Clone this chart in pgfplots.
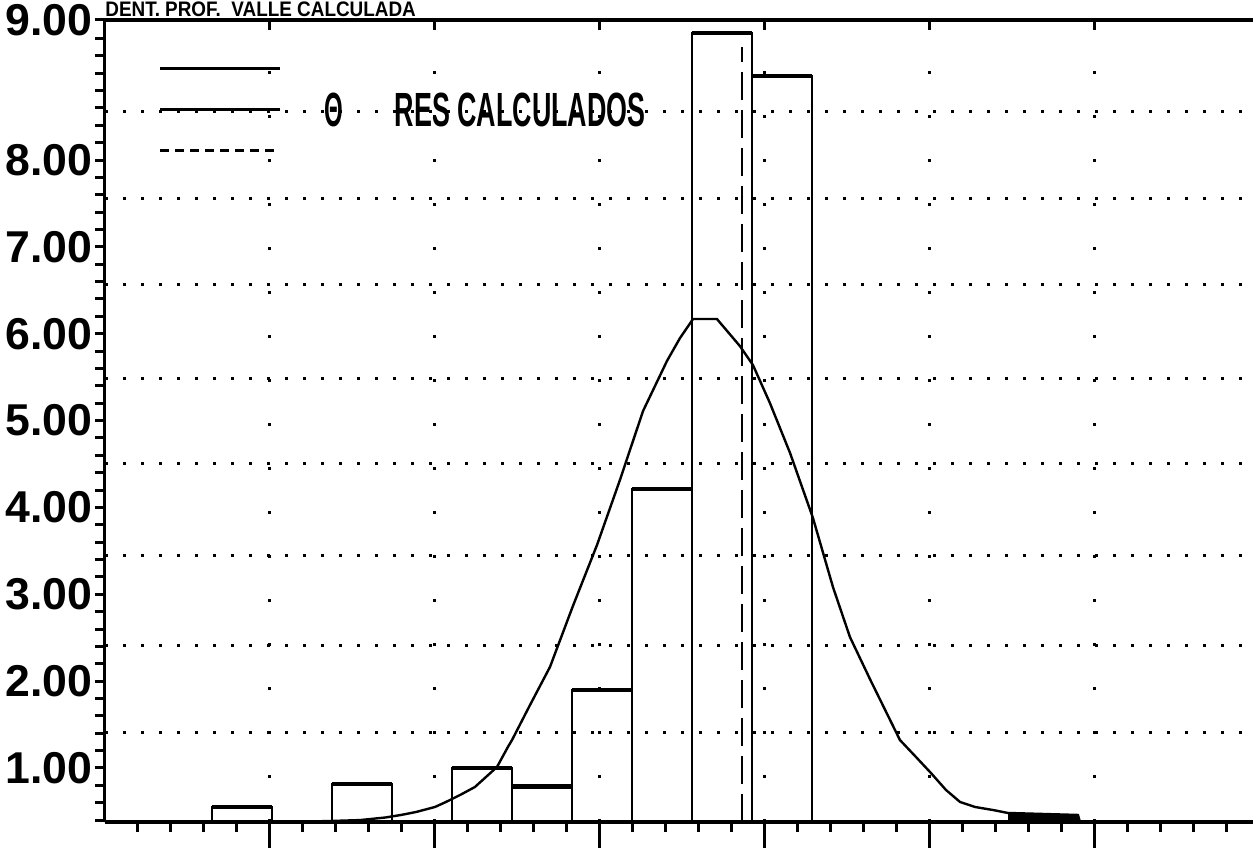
\documentclass[border=0pt]{standalone}
\usepackage{fontspec}
\setmainfont{Liberation Sans}
\usepackage{graphicx}
\usepackage{pgfplots}
\pgfplotsset{compat=1.18}

\pgfplotstableread{
x h
0.648 0.551
1.012 0
1.375 0.816
1.739 0
2.103 1.000
2.466 0.790
2.830 1.898
3.194 4.212
3.557 9.462
3.921 8.967
4.285 0
}\bars

\pgfplotsset{
  base/.style={
    scale only axis, width=574pt, height=401pt,
    xmin=0, xmax=6.958, ymin=0.378, ymax=9.612,
    at={(0,0)}, anchor=south west,
  },
}

\begin{document}
\begin{tikzpicture}
% horizontal dotted grid + legend
\begin{axis}[base, axis line style={draw=none}, tick style={draw=none},
  major tick length=0pt, xtick=\empty,
  ytick={1.403,2.405,3.441,4.500,5.490,6.572,7.562,8.553}, yticklabels={},
  ymajorgrids,
  major grid style={black, line width=1.5pt, dash pattern=on 1.5pt off 7.5pt},
  legend image code/.code={\draw[#1] (0pt,0pt) -- (60pt,0pt);},
  legend style={at={(0.0462,0.9657)}, anchor=north west, draw=none, fill=none,
    inner sep=0pt, row sep=0pt, column sep=21pt,
    nodes={inner sep=0pt, text height=10.25pt, text depth=10.25pt, anchor=base west}},
  legend cell align=left]
\addlegendimage{black, line width=1.8pt}
\addlegendentry{}
\addlegendimage{black, line width=1.8pt}
\addlegendentry{\raisebox{-8.6pt}{\bfseries\fontsize{24}{24}\selectfont\scalebox{0.5}[1]{Θ}\hspace{26pt}\scalebox{0.56}[1]{RES CALCULADOS}}}
\addlegendimage{black, line width=1.8pt, dash pattern=on 4.5pt off 3pt}
\addlegendentry{}
\end{axis}
% vertical dotted grid
\begin{axis}[base, axis line style={draw=none}, tick style={draw=none},
  major tick length=0pt, ytick=\empty,
  xtick={1,2,3,4,5,6}, xticklabels={},
  xmajorgrids,
  major grid style={black, line width=1.5pt, dash pattern=on 1.5pt off 20.5pt}]
\end{axis}
% long major ticks at the bottom
\begin{axis}[base, axis x line*=bottom, hide y axis,
  axis line style={-, line width=2pt},
  xtick={1,2,3,4,5,6}, xticklabels={}, tick align=outside,
  major tick length=14pt, tick style={black, line width=1.5pt}]
\end{axis}
% top line with inward ticks
\begin{axis}[base, axis x line*=top, hide y axis,
  axis line style={-, line width=2pt},
  xtick={1,2,3,4,5,6}, xticklabels={}, tick align=inside,
  major tick length=4pt, tick style={black, line width=1.5pt}]
\end{axis}
% main data axis
\begin{axis}[base, axis lines=left,
  axis line style={-, line width=1.5pt},
  tick align=outside, major tick length=5pt, minor tick length=5pt,
  tick style={black, line width=1.5pt},
  xtick={1,2,3,4,5,6}, xticklabels={},
  minor xtick={0.2,0.4,0.6,0.8,1.2,1.4,1.6,1.8,2.2,2.4,2.6,2.8,3.2,3.4,3.6,3.8,4.2,4.4,4.6,4.8,5.2,5.4,5.6,5.8,6.2,6.4,6.6,6.8},
  ytick={1,2,3,4,5,6,7,8},
  yticklabels={1.00,2.00,3.00,4.00,5.00,6.00,7.00,8.00},
  extra y ticks={9.612}, extra y tick labels={9.00},
  minor ytick={0.4,0.6,0.8,1.2,1.4,1.6,1.8,2.2,2.4,2.6,2.8,3.2,3.4,3.6,3.8,4.2,4.4,4.6,4.8,5.2,5.4,5.6,5.8,6.2,6.4,6.6,6.8,7.2,7.4,7.6,7.8,8.2,8.4,8.6,8.8,9.0,9.2,9.4},
  yticklabel style={font=\bfseries\fontsize{22.3}{22}\selectfont, inner sep=1pt},
  extra y tick style={yticklabel style={font=\bfseries\fontsize{22.3}{22}\selectfont, inner sep=1pt}},
  ]
\addplot[ybar interval, draw=black, fill=none, line width=1.3pt] table[x=x, y=h] {\bars};
% thicker bar tops
\addplot[const plot, black, line width=2.4pt] coordinates {(0.648,0.551) (1.012,0.551)};
\addplot[const plot, black, line width=2.4pt] coordinates {(1.375,0.816) (1.739,0.816)};
\addplot[const plot, black, line width=2.4pt] coordinates {(2.103,1.000) (2.466,1.000)};
\addplot[const plot, black, line width=2.4pt] coordinates {(2.466,0.790) (2.830,0.790)};
\addplot[const plot, black, line width=2.4pt] coordinates {(2.830,1.898) (3.194,1.898)};
\addplot[const plot, black, line width=2.4pt] coordinates {(3.194,4.212) (3.557,4.212)};
\addplot[const plot, black, line width=2.4pt] coordinates {(3.557,9.462) (3.921,9.462)};
\addplot[const plot, black, line width=2.4pt] coordinates {(3.921,8.967) (4.285,8.967)};
\addplot[black, line width=1.2pt] coordinates {
(0,0.378) (1.2,0.382) (1.376,0.39) (1.545,0.40) (1.70,0.43) (1.794,0.459) (1.885,0.493)
(2.0,0.551) (2.067,0.609) (2.152,0.689) (2.242,0.781) (2.309,0.896) (2.376,1.012)
(2.442,1.242) (2.467,1.322) (2.576,1.725) (2.697,2.163) (2.836,2.865) (2.982,3.567)
(3.121,4.316) (3.261,5.110) (3.406,5.686) (3.485,5.95) (3.564,6.169) (3.709,6.169)
(3.848,5.858) (3.927,5.640) (4.030,5.202) (4.152,4.627) (4.291,3.878) (4.412,3.084)
(4.515,2.508) (4.636,2.025) (4.818,1.322) (4.915,1.127) (5.006,0.942) (5.097,0.747)
(5.182,0.609) (5.273,0.551) (5.382,0.516) (5.473,0.482) (5.897,0.459) (5.909,0.378)
(6.958,0.378)};
\addplot[black, line width=3pt] coordinates {(5.473,0.43) (5.897,0.43)};
\addplot[black, line width=1.3pt, dash pattern=on 14pt off 5pt] coordinates {(3.861,0.378) (3.861,9.30)};
\end{axis}
\node[anchor=base west, inner sep=0pt, font=\bfseries\fontsize{10.5}{10.5}\selectfont] at (0pt,402.5pt) {\scalebox{0.9}[1]{DENT. PROF.\ \ VALLE CALCULADA}};
\pgfresetboundingbox
\useasboundingbox (-52.5pt,-12.5pt) rectangle (574pt,411pt);
\end{tikzpicture}
\end{document}
